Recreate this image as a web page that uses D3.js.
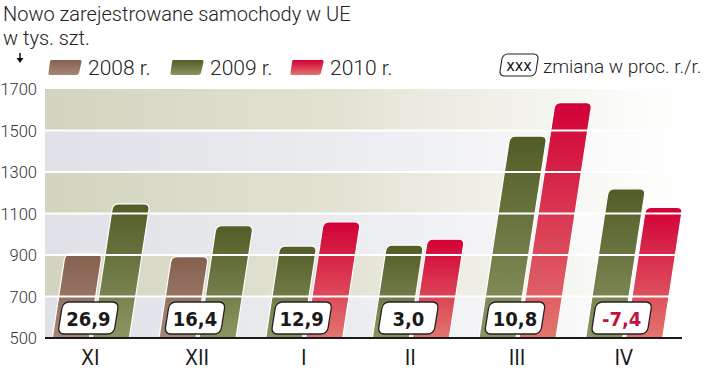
<!DOCTYPE html>
<html>
<head>
<meta charset="utf-8">
<script src="https://cdn.jsdelivr.net/npm/d3@7"></script>
<style>
  html, body { margin: 0; padding: 0; background: #fff; }
  svg { display: block; }
</style>
</head>
<body>
<div id="chart"></div>
<script>
var months = ['XI', 'XII', 'I', 'II', 'III', 'IV'];
var v2008 = [905, 892, null, null, null, null];
var v2009 = [1146, 1041, 943, 947, 1473, 1219];
var v2010 = [null, null, 1059, 976, 1634, 1130];
var changes = ['26,9', '16,4', '12,9', '3,0', '10,8', '-7,4'];
var yTicks = [500, 700, 900, 1100, 1300, 1500, 1700];
var legendYears = ['2008 r.', '2009 r.', '2010 r.'];

(function () {
  var W = 720, H = 370;
  var base = 338, plotTop = 89;
  var SLOPE = 0.153;
  var FONT = 'Roboto, "DejaVu Sans", sans-serif';
  var NARROW = '"DejaVu Sans Condensed", "DejaVu Sans", sans-serif';

  var svg = d3.select('#chart').append('svg').attr('width', W).attr('height', H);
  var defs = svg.append('defs');

  function grad(id, stops, horiz) {
    var g = defs.append('linearGradient').attr('id', id)
      .attr('x1', 0).attr('y1', 0).attr('x2', horiz ? 1 : 0).attr('y2', horiz ? 0 : 1);
    stops.forEach(function (s) {
      g.append('stop').attr('offset', s[0]).attr('stop-color', s[1]);
    });
  }
  grad('g2008', [[0, '#86604e'], [1, '#a58677']]);
  grad('g2009', [[0, '#525c26'], [1, '#8a9563']]);
  grad('g2010', [[0, '#d20036'], [1, '#e2756f']]);
  grad('bandA', [[0, '#d3d4bf'], [0.45, '#e2e2d3'], [0.75, '#f3f3ec'], [1, '#ffffff']], true);
  grad('bandB', [[0, '#dfe1e6'], [0.45, '#eaecf0'], [0.75, '#f6f6f8'], [1, '#ffffff']], true);

  var x = d3.scaleBand().domain(months).range([37, 677]);
  var y = d3.scaleLinear().domain([500, 1700]).range([base, plotTop]);

  // background bands
  var bands = d3.pairs(yTicks);
  svg.append('g').selectAll('rect').data(bands).join('rect')
    .attr('x', 45).attr('width', 640)
    .attr('y', function (d) { return y(d[1]); })
    .attr('height', function (d) { return y(d[0]) - y(d[1]); })
    .attr('fill', function (d, i) { return (bands.length - 1 - i) % 2 === 0 ? 'url(#bandA)' : 'url(#bandB)'; });

  // bars, slanted to the right
  function barPath(x0, w, v) {
    var yt = y(v);
    var s = (base - yt) * SLOPE;
    var r = 6;
    var p = d3.path();
    p.moveTo(x0, base);
    p.lineTo(x0 + s - r * SLOPE, yt + r);
    p.quadraticCurveTo(x0 + s, yt, x0 + s + r, yt);
    p.lineTo(x0 + s + w - r, yt);
    p.quadraticCurveTo(x0 + s + w, yt, x0 + s + w - r * SLOPE, yt + r);
    p.lineTo(x0 + w, base);
    p.closePath();
    return p.toString();
  }

  var bars = [];
  months.forEach(function (m, i) {
    var c = x(m) + x.bandwidth() / 2;
    var left = v2008[i] != null ? { v: v2008[i], f: 'g2008' } : { v: v2009[i], f: 'g2009' };
    var right = v2008[i] != null ? { v: v2009[i], f: 'g2009' } : { v: v2010[i], f: 'g2010' };
    bars.push({ x0: c - 38, v: left.v, f: left.f });
    bars.push({ x0: c + 2, v: right.v, f: right.f });
  });
  svg.append('g').selectAll('path').data(bars).join('path')
    .attr('d', function (d) { return barPath(d.x0, 37, d.v); })
    .attr('fill', function (d) { return 'url(#' + d.f + ')'; })
    .attr('stroke', '#fff').attr('stroke-width', 1.2);

  // white gridlines across plot and bars
  svg.append('g').selectAll('line').data(yTicks.slice(1, -1)).join('line')
    .attr('x1', 45).attr('x2', 683)
    .attr('y1', function (d) { return y(d); }).attr('y2', function (d) { return y(d); })
    .attr('stroke', '#fff').attr('stroke-width', 2);

  // baseline
  svg.append('line').attr('x1', 45).attr('x2', 682).attr('y1', base).attr('y2', base)
    .attr('stroke', '#1a1a1a').attr('stroke-width', 2);

  // y labels
  svg.append('g').selectAll('text').data(yTicks).join('text')
    .attr('x', 37).attr('y', function (d) { return y(d) + 6; })
    .attr('text-anchor', 'end').attr('font-family', FONT).attr('font-weight', 300)
    .attr('font-size', 16.5).attr('fill', '#333')
    .text(function (d) { return d; });

  // x labels
  svg.append('g').selectAll('text').data(months).join('text')
    .attr('x', function (d) { return x(d) + x.bandwidth() / 2; }).attr('y', 365)
    .attr('text-anchor', 'middle').attr('font-family', NARROW)
    .attr('font-size', 21).attr('fill', '#1a1a1a')
    .text(function (d) { return d; });

  // change boxes
  var boxes = svg.append('g').selectAll('g').data(months).join('g')
    .attr('transform', function (d) { return 'translate(' + (x(d) + x.bandwidth() / 2 - 2) + ',318)'; });
  boxes.append('rect').attr('x', -28).attr('y', -16).attr('width', 56).attr('height', 32)
    .attr('rx', 6).attr('fill', '#fff').attr('stroke', '#222').attr('stroke-width', 1.3)
    .attr('transform', 'skewX(-9)');
  boxes.append('text').attr('y', 8).attr('text-anchor', 'middle')
    .attr('font-family', NARROW).attr('font-weight', 'bold').attr('font-size', 20)
    .attr('fill', function (d, i) { return changes[i].charAt(0) === '-' ? '#c2123f' : '#1a1a1a'; })
    .text(function (d, i) { return changes[i]; });

  // titles
  svg.append('text').attr('x', 3).attr('y', 21).attr('font-family', FONT).attr('font-weight', 300)
    .attr('font-size', 20).attr('fill', '#222').text('Nowo zarejestrowane samochody w UE');
  svg.append('text').attr('x', 3).attr('y', 45).attr('font-family', FONT).attr('font-weight', 300)
    .attr('font-size', 20).attr('fill', '#222').text('w tys. szt.');

  // arrow
  svg.append('line').attr('x1', 20).attr('x2', 20).attr('y1', 53).attr('y2', 59)
    .attr('stroke', '#111').attr('stroke-width', 1.5);
  svg.append('path').attr('d', 'M16.5,58 L23.5,58 L20,63 Z').attr('fill', '#111');

  // legend
  var legendX = [48, 170, 290];
  var legendFill = ['g2008', 'g2009', 'g2010'];
  var leg = svg.append('g').selectAll('g').data(legendYears).join('g')
    .attr('transform', function (d, i) { return 'translate(' + legendX[i] + ',0)'; });
  leg.append('path')
    .attr('d', 'M3,60 L32,60 Q34,60 33.5,62 L31,73 Q30.5,75 28,75 L2,75 Q0,75 0.5,73 L2,62 Q2.5,60 3,60 Z')
    .attr('fill', function (d, i) { return 'url(#' + legendFill[i] + ')'; });
  leg.append('text').attr('x', 40).attr('y', 75).attr('font-family', FONT).attr('font-weight', 300)
    .attr('font-size', 21).attr('fill', '#222').text(function (d) { return d; });

  var lb = svg.append('g').attr('transform', 'translate(519,65)');
  lb.append('rect').attr('x', -18).attr('y', -11).attr('width', 36).attr('height', 22)
    .attr('rx', 5).attr('fill', '#fff').attr('stroke', '#222').attr('stroke-width', 1.1)
    .attr('transform', 'skewX(-9)');
  lb.append('text').attr('y', 6).attr('text-anchor', 'middle').attr('font-family', NARROW)
    .attr('font-size', 16).attr('fill', '#111').text('xxx');
  svg.append('text').attr('x', 543).attr('y', 73).attr('font-family', FONT).attr('font-weight', 300)
    .attr('font-size', 19).attr('fill', '#222').text('zmiana w proc. r./r.');
})();
</script>
</body>
</html>
